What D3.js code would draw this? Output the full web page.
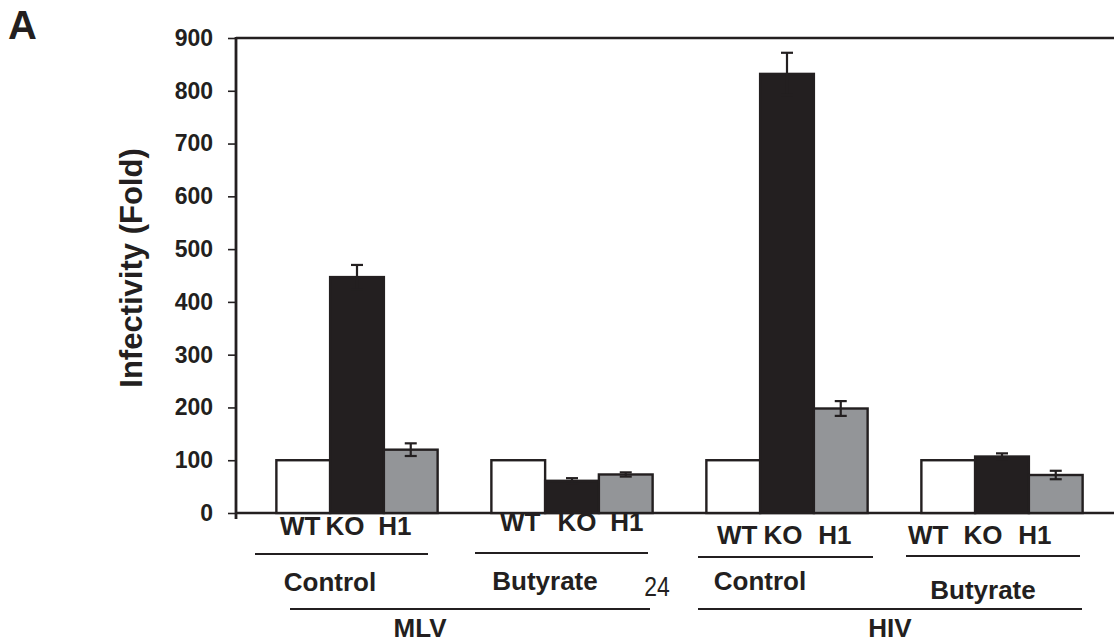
<!DOCTYPE html>
<html>
<head>
<meta charset="utf-8">
<script src="https://cdn.jsdelivr.net/npm/d3@7"></script>
<style>
  html, body { margin: 0; padding: 0; background: #fff; }
  svg { display: block; }
  text { fill: #231f20; }
</style>
</head>
<body>
<svg id="chart" width="1114" height="643"></svg>
<script>
// Infectivity (fold) of MLV and HIV in WT, KO and H1 cells, untreated or butyrate-treated
const groups = ["MLV-Control", "MLV-Butyrate", "HIV-Control", "HIV-Butyrate"];
const treatments = ["Control", "Butyrate", "Control", "Butyrate"];
const viruses = ["MLV", "HIV"];
const genotypes = ["WT", "KO", "H1"];
const wtValues = [100, 100, 100, 100];
const koValues = [447, 61, 832, 107];
const h1Values = [120, 73, 198, 72];
const wtErrors = [0, 0, 0, 0];
const koErrors = [23, 5, 40, 6];
const h1Errors = [12, 4, 14, 8];
const yTicks = [0, 100, 200, 300, 400, 500, 600, 700, 800, 900];

const ink = "#231f20";
const fills = { WT: "#ffffff", KO: "#231f20", H1: "#939598" };
const boldFont = "'Liberation Sans', Arial, Helvetica, sans-serif";

const svg = d3.select("#chart");

const y = d3.scaleLinear().domain([0, 900]).range([513, 38]);
const x0 = d3.scaleBand().domain(groups).range([249.5, 1109.5]).padding(0);
const x1 = d3.scaleBand().domain(genotypes)
  .range([x0.bandwidth() * 0.125, x0.bandwidth() * 0.875]).padding(0);

const rows = groups.map((g, i) => ({
  group: g,
  bars: [
    { key: "WT", value: wtValues[i], err: wtErrors[i] },
    { key: "KO", value: koValues[i], err: koErrors[i] },
    { key: "H1", value: h1Values[i], err: h1Errors[i] }
  ]
}));

const axisX = 236;

// y axis with ticks
const yAxis = d3.axisLeft(y).tickValues(yTicks).tickSize(8).tickPadding(15);
const gy = svg.append("g").attr("transform", `translate(${axisX},0)`).call(yAxis);
gy.select(".domain").remove();
gy.selectAll(".tick line").attr("stroke", ink).attr("stroke-width", 1.6);
gy.selectAll(".tick text")
  .attr("font-family", boldFont).attr("font-weight", "bold")
  .attr("font-size", 23).style("fill", ink);

// frame: top rule, baseline and vertical axis
svg.append("line").attr("x1", axisX).attr("x2", 1114).attr("y1", y(900)).attr("y2", y(900))
  .attr("stroke", ink).attr("stroke-width", 2.6);
svg.append("line").attr("x1", axisX).attr("x2", 1114).attr("y1", y(0)).attr("y2", y(0))
  .attr("stroke", ink).attr("stroke-width", 2.6);
svg.append("line").attr("x1", axisX).attr("x2", axisX).attr("y1", y(900) - 1).attr("y2", y(0) + 6)
  .attr("stroke", ink).attr("stroke-width", 2.8);

// bars
const gGroups = svg.selectAll("g.grp").data(rows).enter().append("g")
  .attr("class", "grp")
  .attr("transform", d => `translate(${x0(d.group)},0)`);

gGroups.selectAll("rect").data(d => d.bars).enter().append("rect")
  .attr("x", d => x1(d.key))
  .attr("y", d => y(d.value))
  .attr("width", x1.bandwidth())
  .attr("height", d => y(0) - y(d.value))
  .attr("fill", d => fills[d.key])
  .attr("stroke", ink)
  .attr("stroke-width", 2.4);

// error bars
const capHalf = 6;
const errG = gGroups.selectAll("g.err").data(d => d.bars.filter(b => b.err > 0)).enter()
  .append("g").attr("class", "err");
const cx = d => x1(d.key) + x1.bandwidth() / 2;
errG.append("line")
  .attr("x1", cx).attr("x2", cx)
  .attr("y1", d => y(d.value - d.err))
  .attr("y2", d => y(d.value + d.err))
  .attr("stroke", ink).attr("stroke-width", 2.2);
errG.append("line")
  .attr("x1", d => cx(d) - capHalf).attr("x2", d => cx(d) + capHalf)
  .attr("y1", d => y(d.value + d.err)).attr("y2", d => y(d.value + d.err))
  .attr("stroke", ink).attr("stroke-width", 2.2);
errG.append("line")
  .attr("x1", d => cx(d) - capHalf).attr("x2", d => cx(d) + capHalf)
  .attr("y1", d => y(d.value - d.err)).attr("y2", d => y(d.value - d.err))
  .attr("stroke", ink).attr("stroke-width", 2.2);

// genotype labels under each group (hand-placed nudges around the bar centres)
const labelNudge = [
  { dx: [-3, -12, -16], base: 535 },
  { dx: [2, 5, 1], base: 531 },
  { dx: [4, -4, -6], base: 544 },
  { dx: [-20, -19, -21], base: 544 }
];
rows.forEach((r, i) => {
  genotypes.forEach((gname, j) => {
    svg.append("text")
      .attr("x", x0(r.group) + cx({ key: gname }) + labelNudge[i].dx[j])
      .attr("y", labelNudge[i].base)
      .attr("text-anchor", "middle")
      .attr("font-family", boldFont).attr("font-weight", "bold")
      .attr("font-size", 26)
      .text(gname);
  });
});

// caption text helper
function caption(x, yPos, str, size, weight, sx) {
  svg.append("text")
    .attr("transform", `translate(${x},${yPos}) scale(${sx || 1},1)`)
    .attr("text-anchor", "middle")
    .attr("font-family", boldFont).attr("font-weight", weight)
    .attr("font-size", size)
    .text(str);
}

// treatment rules and labels
const treatLayout = [
  { a: 5.5, b: 178.5, ly: 554, tx: 330, ty: 591 },
  { a: 10.5, b: 183.5, ly: 553, tx: 545, ty: 590 },
  { a: 18.5, b: 193.5, ly: 557, tx: 760, ty: 590 },
  { a: 11.5, b: 185.5, ly: 556, tx: 983, ty: 599 }
];
groups.forEach((g, i) => {
  const L = treatLayout[i];
  svg.append("line")
    .attr("x1", x0(g) + L.a).attr("x2", x0(g) + L.b)
    .attr("y1", L.ly).attr("y2", L.ly)
    .attr("stroke", ink).attr("stroke-width", 1.8);
  caption(L.tx, L.ty, treatments[i], 26, "bold");
});

// page number
caption(657, 596, "24", 27, "normal", 0.85);

// virus rules and labels
const virusLayout = [
  { a: 290, b: 650, tx: 420 },
  { a: 698, b: 1082, tx: 890 }
];
viruses.forEach((v, i) => {
  const L = virusLayout[i];
  svg.append("line").attr("x1", L.a).attr("x2", L.b).attr("y1", 609).attr("y2", 609)
    .attr("stroke", ink).attr("stroke-width", 1.8);
  caption(L.tx, 637, v, 26, "bold");
});

// y axis title
svg.append("text")
  .attr("transform", "translate(142,268) rotate(-90)")
  .attr("text-anchor", "middle")
  .attr("font-family", boldFont).attr("font-weight", "bold")
  .attr("font-size", 31)
  .text("Infectivity (Fold)");

// panel letter
svg.append("text").attr("x", 8).attr("y", 39)
  .attr("font-family", boldFont).attr("font-weight", "bold")
  .attr("font-size", 40).text("A");
</script>
</body>
</html>
